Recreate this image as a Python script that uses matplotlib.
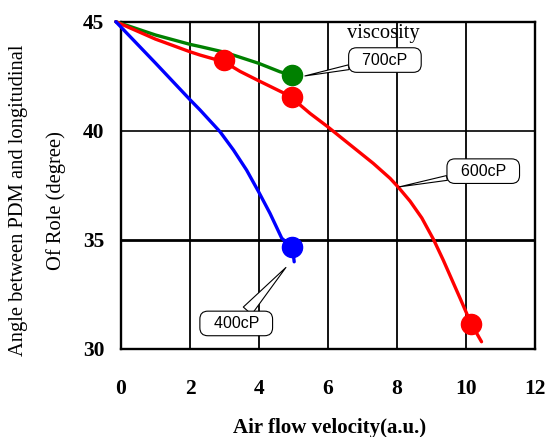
import matplotlib
matplotlib.use("Agg")
import matplotlib.pyplot as plt

# ---- data ----
x_400 = [-0.15, 1.0, 2.0, 2.29, 2.87, 3.26, 3.64, 3.99, 4.32, 4.66, 4.97, 5.02]
y_400 = [45.0, 43.1, 41.42, 40.95, 39.95, 39.11, 38.19, 37.19, 36.2, 35.06, 34.64, 33.98]

x_700 = [-0.15, 1.0, 2.0, 2.29, 3.0, 3.99, 4.61, 4.97]
y_700 = [45.0, 44.39, 43.96, 43.86, 43.6, 43.09, 42.7, 42.55]

x_600 = [-0.15, 1.0, 2.0, 2.29, 3.0, 3.45, 3.99, 4.97, 5.19, 5.48, 5.99, 6.35, 6.83, 7.31,
         7.8, 8.04, 8.38, 8.72, 9.06, 9.34, 9.83, 10.14, 10.45]
y_600 = [45.0, 44.2, 43.62, 43.47, 43.15, 42.72, 42.29, 41.53, 41.18, 40.79, 40.18, 39.72, 39.11, 38.5,
         37.81, 37.4, 36.76, 35.99, 35.0, 34.06, 32.3, 31.17, 30.31]

pts_400 = ([4.97], [34.64])
pts_700 = ([4.97], [42.55])
pts_600 = ([2.99, 4.97, 10.14], [43.24, 41.53, 31.12])

x_ticks = [0, 2, 4, 6, 8, 10, 12]
y_ticks = [30, 35, 40, 45]

serif = "Liberation Serif"
sans = "Liberation Sans"

fig = plt.figure(figsize=(5.48, 4.37), dpi=100)
ax = fig.add_axes([121 / 548, 1 - 348.5 / 437, (535 - 121) / 548, (348.5 - 21.7) / 437])

ax.set_xlim(0, 12)
ax.set_ylim(30, 45)
ax.set_xticks(x_ticks)
ax.set_yticks(y_ticks)
ax.tick_params(length=0, labelsize=15.5)
ax.tick_params(axis="x", pad=22)
ax.tick_params(axis="y", pad=12)
for lab in ax.get_xticklabels() + ax.get_yticklabels():
    lab.set_fontfamily(serif)
    lab.set_fontweight("bold")

for s in ax.spines.values():
    s.set_linewidth(1.7)

# grid
for gx in x_ticks[1:-1]:
    ax.axvline(gx, color="black", lw=1.3, zorder=1)
ax.axhline(40, color="black", lw=1.2, zorder=1)
ax.axhline(35, color="black", lw=2.0, zorder=1)

# curves
kw = dict(lw=2.4, clip_on=False, zorder=3, solid_joinstyle="round", solid_capstyle="round")
ax.plot(x_700, y_700, color="green", **kw)
ax.plot(x_600, y_600, color="red", **kw)
ax.plot(x_400, y_400, color="blue", **kw)
ax.plot(*pts_700, "o", color="green", ms=14.5, zorder=4)
ax.plot(*pts_600, "o", color="red", ms=14.5, zorder=4, clip_on=False)
ax.plot(*pts_400, "o", color="blue", ms=14.5, zorder=4)

# callouts
box = dict(boxstyle="round,pad=0.3,rounding_size=0.5", fc="white", ec="black", lw=0.8)
callouts = [("700cP", (5.33, 42.51), (7.65, 43.24), 0.3),
            ("600cP", (8.07, 37.42), (10.5, 38.14), 0.3),
            ("400cP", (4.78, 33.72), (3.34, 31.15), 0.7)]
for txt, tip, pos, tw in callouts:
    ax.annotate("  " + txt + "  ", xy=tip, xytext=pos, ha="center", va="center",
                fontsize=11.5, fontfamily=sans, bbox=box, zorder=6,
                arrowprops=dict(arrowstyle="wedge,tail_width=%s" % tw,
                                fc="white", ec="black", lw=0.8, shrinkA=0, shrinkB=0))

ax.text(7.59, 44.44, "viscosity", ha="center", va="center", fontsize=14.8,
        fontfamily=serif, zorder=5)

# axis labels
fig.text(330 / 548, 1 - 428 / 437, "Air flow velocity(a.u.)", ha="center", va="center",
         fontsize=15, fontfamily=serif, fontweight="bold")
fig.text(18.4 / 548, 1 - 200 / 437, "Angle between PDM and longitudinal", rotation=90,
         ha="center", va="center", fontsize=14.8, fontfamily=serif)
fig.text(56 / 548, 1 - 201 / 437, "Of Role (degree)", rotation=90,
         ha="center", va="center", fontsize=14.8, fontfamily=serif)

fig.savefig("out.png", dpi=100)
